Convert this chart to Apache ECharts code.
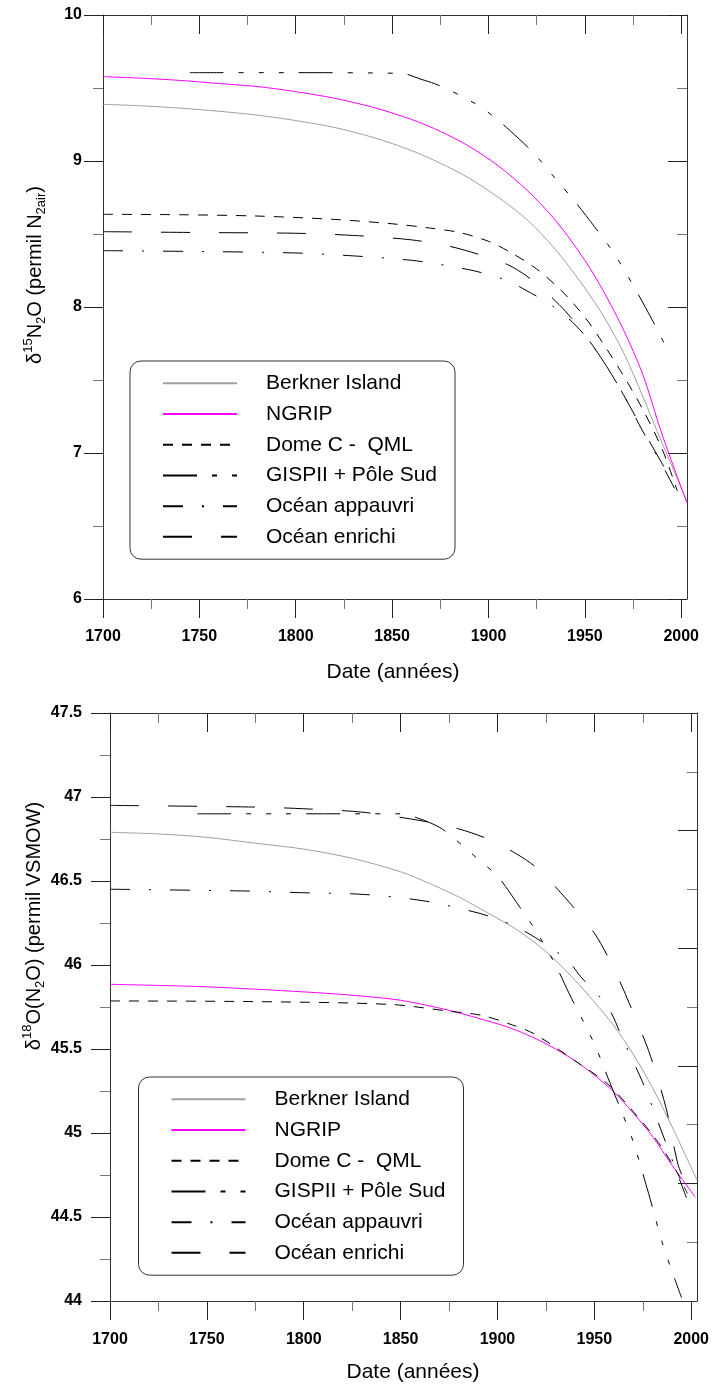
<!DOCTYPE html>
<html><head><meta charset="utf-8">
<script src="https://cdn.jsdelivr.net/npm/echarts@6/dist/echarts.min.js"></script>
<style>html,body{margin:0;padding:0;background:#fff}#c{width:712px;height:1385px}</style>
</head><body><div id="c"></div>
<script>
// ---------- names ----------
const seriesNames = ['Berkner Island', 'NGRIP', 'Dome C -  QML', 'GISPII + Pôle Sud', 'Océan appauvri', 'Océan enrichi'];

// ---------- tick values ----------
const xMajor = [1700, 1750, 1800, 1850, 1900, 1950, 2000];
const xMinor = [1725, 1775, 1825, 1875, 1925, 1975];
const y1Major = [6, 7, 8, 9, 10];
const y1Minor = [6.5, 7.5, 8.5, 9.5];
const y2Major = [44, 44.5, 45, 45.5, 46, 46.5, 47, 47.5];
const y2Minor = [44.25, 44.75, 45.25, 45.75, 46.25, 46.75, 47.25];
const r2Major = [2, 4, 6, 8];
const r2Minor = [1, 3, 5, 7, 9];

// ---------- chart 1 : d15N ----------
const c1BerknerYears = [1700, 1720, 1740, 1760, 1780, 1800, 1820, 1840, 1860, 1875, 1890, 1905, 1920, 1935, 1950, 1960, 1970, 1980, 1990, 2003];
const c1Berkner      = [9.388, 9.378, 9.362, 9.341, 9.314, 9.277, 9.23, 9.162, 9.072, 8.985, 8.882, 8.752, 8.598, 8.39, 8.13, 7.93, 7.69, 7.39, 7.07, 6.67];
const c1NgripYears   = [1700, 1720, 1740, 1760, 1780, 1800, 1820, 1840, 1860, 1875, 1890, 1905, 1920, 1935, 1950, 1960, 1970, 1980, 1990, 2003];
const c1Ngrip        = [9.578, 9.567, 9.552, 9.531, 9.51, 9.475, 9.43, 9.368, 9.285, 9.203, 9.10, 8.968, 8.80, 8.59, 8.32, 8.10, 7.845, 7.54, 7.13, 6.656];
const c1DomeYears    = [1700, 1740, 1780, 1820, 1850, 1870, 1885, 1900, 1912, 1925, 1938, 1950, 1960, 1970, 1980, 1990, 1998];
const c1Dome         = [8.635, 8.632, 8.623, 8.60, 8.57, 8.54, 8.51, 8.45, 8.37, 8.26, 8.11, 7.93, 7.74, 7.53, 7.30, 7.03, 6.74];
const c1GispYears    = [1745, 1800, 1855, 1865, 1872, 1879, 1888, 1896, 1904, 1911, 1923, 1936, 1945, 1955, 1965, 1975, 1985, 1992];
const c1Gisp         = [9.605, 9.605, 9.60, 9.56, 9.53, 9.49, 9.43, 9.37, 9.29, 9.21, 9.06, 8.86, 8.72, 8.55, 8.37, 8.15, 7.91, 7.73];
const c1AppYears     = [1700, 1750, 1800, 1830, 1860, 1880, 1895, 1910, 1920, 1930, 1940, 1950, 1960, 1970, 1980, 1990, 1998];
const c1App          = [8.386, 8.38, 8.37, 8.35, 8.32, 8.28, 8.24, 8.18, 8.11, 8.035, 7.94, 7.805, 7.62, 7.40, 7.15, 6.92, 6.72];
const c1EnrYears     = [1700, 1750, 1800, 1830, 1860, 1880, 1895, 1910, 1920, 1930, 1940, 1950, 1960, 1970, 1980, 1990, 1998];
const c1Enr          = [8.516, 8.51, 8.505, 8.49, 8.46, 8.415, 8.36, 8.29, 8.21, 8.10, 7.97, 7.81, 7.62, 7.40, 7.16, 6.93, 6.74];

// ---------- chart 2 : d18O ----------
const c2BerknerYears = [1700, 1725, 1750, 1775, 1800, 1825, 1850, 1865, 1880, 1895, 1910, 1925, 1940, 1950, 1960, 1970, 1980, 1990, 2003];
const c2Berkner      = [46.79, 46.78, 46.76, 46.725, 46.69, 46.635, 46.555, 46.485, 46.405, 46.31, 46.21, 46.08, 45.91, 45.78, 45.64, 45.47, 45.27, 45.04, 44.72];
const c2NgripYears   = [1700, 1750, 1800, 1825, 1850, 1875, 1900, 1910, 1920, 1930, 1940, 1950, 1960, 1970, 1980, 1990, 2002];
const c2Ngrip        = [45.885, 45.87, 45.84, 45.82, 45.79, 45.73, 45.65, 45.61, 45.56, 45.50, 45.43, 45.345, 45.245, 45.12, 44.98, 44.81, 44.62];
const c2DomeYears    = [1700, 1775, 1845, 1875, 1892, 1906, 1919, 1940, 1957, 1971, 1982, 1992, 1998];
const c2Dome         = [45.786, 45.782, 45.765, 45.725, 45.70, 45.65, 45.59, 45.43, 45.29, 45.115, 44.96, 44.78, 44.64];
const c2GispYears    = [1745, 1850, 1860, 1870, 1877, 1884, 1892, 1900, 1910, 1920, 1930, 1937, 1950, 1958, 1964, 1970, 1978, 1985, 1990, 1995];
const c2Gisp         = [46.90, 46.90, 46.87, 46.82, 46.76, 46.69, 46.61, 46.53, 46.37, 46.20, 46.00, 45.83, 45.53, 45.30, 45.13, 44.95, 44.64, 44.35, 44.18, 44.02];
const c2AppYears     = [1700, 1772, 1800, 1831, 1863, 1890, 1898, 1908, 1919, 1936, 1943, 1957, 1965, 1975, 1985, 1998];
const c2App          = [46.451, 46.44, 46.43, 46.42, 46.38, 46.31, 46.28, 46.236, 46.167, 46.03, 45.93, 45.75, 45.55, 45.30, 45.00, 44.60];
const c2EnrYears     = [1700, 1775, 1800, 1830, 1860, 1880, 1895, 1910, 1920, 1935, 1950, 1960, 1967, 1978, 1987, 1993, 1997];
const c2Enr          = [46.95, 46.94, 46.93, 46.91, 46.86, 46.81, 46.75, 46.66, 46.58, 46.40, 46.19, 45.98, 45.80, 45.49, 45.15, 44.82, 44.70];

// ---------- styles ----------
const FONT = "'Liberation Sans', Arial, sans-serif";
const lineColors = ['#a0a0a0', '#ff00ff', '#000', '#000', '#000', '#000'];
const lineTypes = ['solid', 'solid', [10, 9], [34, 15, 5, 15, 5, 15, 5, 15], [20, 19, 2, 19], [29, 29]];

function pairs(xs, ys) { return xs.map((x, i) => [x, ys[i]]); }

const chart1Data = [pairs(c1BerknerYears, c1Berkner), pairs(c1NgripYears, c1Ngrip), pairs(c1DomeYears, c1Dome),
  pairs(c1GispYears, c1Gisp), pairs(c1AppYears, c1App), pairs(c1EnrYears, c1Enr)];
const chart2Data = [pairs(c2BerknerYears, c2Berkner), pairs(c2NgripYears, c2Ngrip), pairs(c2DomeYears, c2Dome),
  pairs(c2GispYears, c2Gisp), pairs(c2AppYears, c2App), pairs(c2EnrYears, c2Enr)];

const grids = [
  { left: 103, top: 15, width: 584, height: 584 },
  { left: 110, top: 713, width: 588, height: 588 }
];

const AX_COLOR = '#333';
const MAJ_COLOR = '#222';
const MIN_COLOR = '#777';

function xAxes(gi, labelMargin) {
  const base = { gridIndex: gi, type: 'value', min: 1700, max: 2003, splitLine: { show: false } };
  return [
    Object.assign({}, base, {
      position: 'bottom',
      axisLine: { show: true, lineStyle: { color: AX_COLOR, width: 1 } },
      axisTick: { show: true, inside: false, length: 19, customValues: xMajor, lineStyle: { color: MAJ_COLOR } },
      axisLabel: { show: true, customValues: xMajor, margin: labelMargin, formatter: v => String(v),
        fontFamily: FONT, fontWeight: 'bold', fontSize: 16, color: '#000' }
    }),
    Object.assign({}, base, {
      position: 'bottom',
      axisLine: { show: false },
      axisTick: { show: true, inside: false, length: 10, customValues: xMinor, lineStyle: { color: MIN_COLOR } },
      axisLabel: { show: false }
    }),
    Object.assign({}, base, {
      position: 'top',
      axisLine: { show: true, lineStyle: { color: AX_COLOR, width: 1 } },
      axisTick: { show: true, inside: true, length: 19, customValues: xMajor, lineStyle: { color: MAJ_COLOR } },
      axisLabel: { show: false }
    }),
    Object.assign({}, base, {
      position: 'top',
      axisLine: { show: false },
      axisTick: { show: true, inside: true, length: 10, customValues: xMinor, lineStyle: { color: MIN_COLOR } },
      axisLabel: { show: false }
    })
  ];
}

function yAxes(gi, min, max, major, minor, rMin, rMax, rMajor, rMinor, labelMargin) {
  const base = { gridIndex: gi, type: 'value', splitLine: { show: false } };
  return [
    Object.assign({}, base, {
      min: min, max: max, position: 'left',
      axisLine: { show: true, lineStyle: { color: AX_COLOR, width: 1 } },
      axisTick: { show: true, inside: false, length: 19, customValues: major, lineStyle: { color: MAJ_COLOR } },
      axisLabel: { show: true, customValues: major, margin: labelMargin, formatter: v => String(v),
        fontFamily: FONT, fontWeight: 'bold', fontSize: 16, color: '#000' }
    }),
    Object.assign({}, base, {
      min: min, max: max, position: 'left',
      axisLine: { show: false },
      axisTick: { show: true, inside: false, length: 10, customValues: minor, lineStyle: { color: MIN_COLOR } },
      axisLabel: { show: false }
    }),
    Object.assign({}, base, {
      min: rMin, max: rMax, position: 'right',
      axisLine: { show: true, lineStyle: { color: AX_COLOR, width: 1 } },
      axisTick: { show: true, inside: true, length: 19, customValues: rMajor, lineStyle: { color: MAJ_COLOR } },
      axisLabel: { show: false }
    }),
    Object.assign({}, base, {
      min: rMin, max: rMax, position: 'right',
      axisLine: { show: false },
      axisTick: { show: true, inside: true, length: 10, customValues: rMinor, lineStyle: { color: MIN_COLOR } },
      axisLabel: { show: false }
    })
  ];
}

const xAxisList = xAxes(0, 30).concat(xAxes(1, 31));
const yAxisList = yAxes(0, 6, 10, y1Major, y1Minor, 6, 10, y1Major, y1Minor, 21)
  .concat(yAxes(1, 44, 47.5, y2Major, y2Minor, 0, 10, r2Major, r2Minor, 28));

function makeSeries(dataList, gi) {
  return dataList.map((d, i) => ({
    name: seriesNames[i],
    type: 'line',
    xAxisIndex: gi * 4,
    yAxisIndex: gi * 4,
    data: d,
    smooth: 0.3,
    symbol: 'none',
    silent: true,
    lineStyle: { color: lineColors[i], width: 1, type: lineTypes[i] },
    itemStyle: { color: lineColors[i] },
    z: 3
  }));
}

function legendAt(left, top) {
  return {
    orient: 'vertical', left: left, top: top,
    data: seriesNames,
    selectedMode: false,
    padding: [7, 18, 7, 32],
    itemWidth: 74, itemHeight: 14, itemGap: 0,
    backgroundColor: '#fff',
    borderColor: '#333', borderWidth: 1, borderRadius: 11,
    itemStyle: { opacity: 0, borderWidth: 0 },
    textStyle: { fontFamily: FONT, fontSize: 21, color: '#000', lineHeight: 30.7, padding: [0, 0, 0, 24] }
  };
}

const richY = {
  m: { fontFamily: FONT, fontSize: 20, color: '#000', lineHeight: 26 },
  sup: { fontFamily: FONT, fontSize: 13, color: '#000', lineHeight: 13, verticalAlign: 'top' },
  sub: { fontFamily: FONT, fontSize: 13, color: '#000', lineHeight: 13, verticalAlign: 'bottom' }
};

const option = {
  animation: false,
  backgroundColor: '#fff',
  grid: grids,
  xAxis: xAxisList,
  yAxis: yAxisList,
  legend: [legendAt(130, 361), legendAt(138.5, 1077)],
  series: makeSeries(chart1Data, 0).concat(makeSeries(chart2Data, 1)),
  graphic: [
    { type: 'text', x: 393, y: 672, style: { text: 'Date (années)', fontFamily: FONT, fontSize: 21, fill: '#000', align: 'center', verticalAlign: 'middle' } },
    { type: 'text', x: 413, y: 1372, style: { text: 'Date (années)', fontFamily: FONT, fontSize: 21, fill: '#000', align: 'center', verticalAlign: 'middle' } },
    { type: 'text', x: 35, y: 275, rotation: Math.PI / 2,
      style: { text: '{m|δ}{sup|15}{m|N}{sub|2}{m|O (permil N}{sub|2air}{m|)}', rich: richY, align: 'center', verticalAlign: 'middle' } },
    { type: 'text', x: 34, y: 926, rotation: Math.PI / 2,
      style: { text: '{m|δ}{sup|18}{m|O(N}{sub|2}{m|O) (permil VSMOW)}', rich: richY, align: 'center', verticalAlign: 'middle' } }
  ]
};

const chart = echarts.init(document.getElementById('c'), null, { renderer: 'canvas' });
chart.setOption(option);
</script></body></html>
